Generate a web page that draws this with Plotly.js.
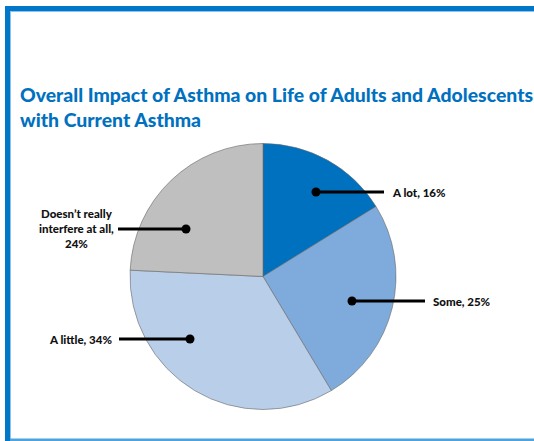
<!DOCTYPE html>
<html>
<head>
<meta charset="utf-8">
<script src="https://cdn.plot.ly/plotly-3.0.1.min.js"></script>
<style>html,body{margin:0;padding:0;background:#fff;}#chart{width:534px;height:441px;}</style>
</head>
<body>
<div id="chart"></div>
<script>
// ---- data ----
const categories = ["A lot", "Some", "A little", "Doesn\u2019t really interfere at all"];
const values = [16, 25, 34, 24];
const labelTexts = ["A lot, 16%", "Some, 25%", "A little, 34%", "Doesn\u2019t really<br>interfere at all,<br>24%"];
const sliceColors = ["#0071BF", "#7EABDB", "#B9CFE9", "#BFBFBF"];

// ---- layout config (pixel positions of labels & leader dots) ----
const W = 534, H = 441;
const px = x => x / W;
const py = y => 1 - y / H;
const cx = 263, cy = 276.5, R = 133;
// [dotX, dotY, lineEndX, textX, textAnchor]
const leaders = [
  [316, 192, 384, 390, "left"],
  [352, 301, 425, 431, "left"],
  [190, 339, 119, 114, "right"],
  [186, 229, 118, 76, "center"]
];

const shapes = [
  // frame
  {type:"rect", xref:"paper", yref:"paper", x0:px(5), x1:px(10), y0:py(441), y1:py(6), fillcolor:"#0077C8", line:{width:0}},
  {type:"rect", xref:"paper", yref:"paper", x0:px(5), x1:px(534), y0:py(11), y1:py(6), fillcolor:"#0077C8", line:{width:0}},
  {type:"rect", xref:"paper", yref:"paper", x0:px(10), x1:px(11), y0:py(441), y1:py(11), fillcolor:"#8EC4EA", line:{width:0}},
  {type:"rect", xref:"paper", yref:"paper", x0:px(10), x1:px(534), y0:py(12), y1:py(11), fillcolor:"#8EC4EA", line:{width:0}},
  {type:"rect", xref:"paper", yref:"paper", x0:px(10), x1:px(534), y0:py(441), y1:py(438.5), fillcolor:"#4FA3DC", line:{width:0}}
];
const annotations = [];
leaders.forEach((l, i) => {
  const [dx, dy, lx, tx, anc] = l;
  shapes.push({type:"line", xref:"paper", yref:"paper", x0:px(dx), y0:py(dy), x1:px(lx), y1:py(dy), line:{color:"#000", width:3}});
  shapes.push({type:"circle", xref:"paper", yref:"paper", xsizemode:"pixel", ysizemode:"pixel",
    xanchor:px(dx), yanchor:py(dy), x0:-4.5, x1:4.5, y0:-4.5, y1:4.5, fillcolor:"#000", line:{width:0}});
  annotations.push({xref:"paper", yref:"paper", x:px(tx), y:py(dy), xanchor:anc, yanchor:"middle",
    text:labelTexts[i], showarrow:false, align:"center",
    font:{family:"Lato, sans-serif", size:11.5, color:"#111", weight:900}});
});

const trace = {
  type:"pie",
  labels: categories,
  values: values,
  sort:false,
  direction:"clockwise",
  rotation:0,
  textinfo:"none",
  hoverinfo:"none",
  marker:{colors:sliceColors, line:{color:"#666", width:0.6}},
  domain:{x:[px(cx - R), px(cx + R)], y:[py(cy + R), py(cy - R)]},
  showlegend:false
};

const layout = {
  width:W, height:H,
  margin:{l:0, r:0, t:0, b:0},
  paper_bgcolor:"#fff",
  plot_bgcolor:"#fff",
  title:{text:"Overall Impact of Asthma on Life of Adults and Adolescents<br>with Current Asthma",
    x:px(20), xanchor:"left", y:py(102), yanchor:"top", xref:"paper", yref:"paper",
    font:{family:"Lato, sans-serif", size:19.4, color:"#0071BF", weight:900}},
  shapes: shapes,
  annotations: annotations,
  showlegend:false
};

Plotly.newPlot("chart", [trace], layout, {displayModeBar:false, staticPlot:true});
</script>
</body>
</html>
